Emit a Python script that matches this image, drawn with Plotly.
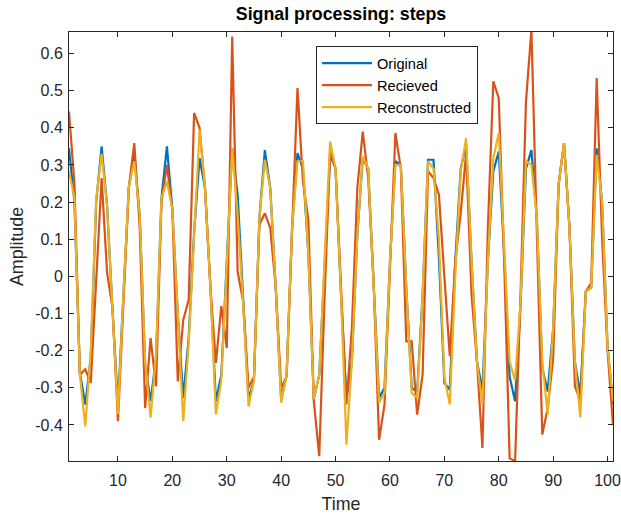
import plotly.graph_objects as go

time = list(range(1, 102))

original = [0.345, 0.20, -0.26, -0.345, -0.22, 0.20, 0.35, 0.19, -0.09, -0.345,
            -0.05, 0.24, 0.327, 0.166, -0.24, -0.336, -0.22, 0.21, 0.35, 0.18,
            -0.10, -0.327, -0.166, 0.12, 0.318, 0.238, -0.03, -0.336, -0.265, 0.03,
            0.345, 0.22, -0.07, -0.33, -0.28, 0.157, 0.34, 0.238, -0.03, -0.332,
            -0.265, 0.13, 0.332, 0.29, 0.06, -0.33, -0.265, 0.05, 0.327, 0.29,
            -0.05, -0.33, -0.23, 0.11, 0.318, 0.29, -0.02, -0.327, -0.30, 0.04,
            0.31, 0.30, -0.03, -0.30, -0.31, -0.05, 0.314, 0.314, 0.05, -0.287,
            -0.305, 0.04, 0.29, 0.354, 0.04, -0.23, -0.305, 0.04, 0.283, 0.336,
            0.06, -0.27, -0.336, -0.08, 0.29, 0.34, 0.157, -0.246, -0.31, -0.14,
            0.247, 0.359, 0.13, -0.23, -0.318, -0.04, -0.03, 0.345, 0.20, -0.19,
            -0.345]

received = [0.444, 0.25, -0.265, -0.25, -0.287, 0.0, 0.265, 0.01, -0.085, -0.39,
            -0.08, 0.24, 0.359, 0.13, -0.354, -0.166, -0.296, 0.20, 0.30, 0.18,
            -0.283, -0.117, -0.063, 0.44, 0.40, 0.238, -0.03, -0.233, -0.08, -0.193,
            0.646, 0.013, -0.067, -0.30, -0.27, 0.14, 0.17, 0.13, -0.03, -0.30,
            -0.27, 0.13, 0.507, 0.256, 0.152, -0.336, -0.484, -0.05, 0.336, 0.29,
            -0.05, -0.345, -0.14, 0.238, 0.39, 0.265, -0.02, -0.44, -0.345, 0.0,
            0.386, 0.29, -0.175, -0.175, -0.372, -0.265, 0.283, 0.265, 0.22, 0.0,
            -0.215, 0.04, 0.17, 0.33, -0.05, -0.23, -0.462, 0.13, 0.525, 0.48,
            0.04, -0.49, -0.497, -0.05, 0.47, 0.664, 0.152, -0.426, -0.354, -0.22,
            0.247, 0.359, 0.13, -0.296, -0.336, -0.04, -0.018, 0.534, 0.10, -0.20,
            -0.40]

reconstructed = [0.283, 0.21, -0.265, -0.404, -0.20, 0.21, 0.33, 0.19, -0.09, -0.37,
                 -0.05, 0.242, 0.31, 0.166, -0.23, -0.38, -0.21, 0.21, 0.256, 0.18,
                 -0.10, -0.39, -0.18, 0.12, 0.395, 0.238, -0.03, -0.372, -0.28, 0.03,
                 0.345, 0.166, -0.07, -0.35, -0.28, 0.157, 0.314, 0.238, -0.03, -0.34,
                 -0.265, 0.13, 0.31, 0.31, 0.06, -0.33, -0.265, 0.05, 0.363, 0.29,
                 -0.05, -0.453, -0.23, 0.11, 0.323, 0.29, -0.02, -0.34, -0.314, 0.04,
                 0.30, 0.30, -0.03, -0.314, -0.327, -0.05, 0.31, 0.29, 0.10, -0.273,
                 -0.345, 0.0, 0.283, 0.372, 0.04, -0.23, -0.345, 0.04, 0.318, 0.386,
                 0.08, -0.23, -0.28, -0.07, 0.31, 0.30, 0.157, -0.23, -0.372, -0.14,
                 0.247, 0.359, 0.13, -0.23, -0.38, -0.04, -0.03, 0.327, 0.20, -0.19,
                 -0.336]

x_ticks = [10, 20, 30, 40, 50, 60, 70, 80, 90, 100]
y_ticks = [-0.4, -0.3, -0.2, -0.1, 0, 0.1, 0.2, 0.3, 0.4, 0.5, 0.6]
y_tick_labels = ["-0.4", "-0.3", "-0.2", "-0.1", "0", "0.1", "0.2", "0.3", "0.4", "0.5", "0.6"]

series = [("Original", original, "#0072BD"),
          ("Recieved", received, "#D95319"),
          ("Reconstructed", reconstructed, "#EDB120")]

fig = go.Figure()
for name, vals, col in series:
    fig.add_trace(go.Scatter(x=time, y=vals, mode="lines", name=name,
                             line=dict(color=col, width=2.2)))

all_vals = original + received + reconstructed
axis_col = "#262626"
font_fam = "Liberation Sans, Arial, sans-serif"

fig.update_layout(
    width=621, height=515,
    margin=dict(l=69, r=8, t=32, b=54),
    paper_bgcolor="white", plot_bgcolor="white",
    font=dict(family=font_fam, size=16, color=axis_col),
    title=dict(text="<b>Signal processing: steps</b>", x=341 / 621,
               xanchor="center", y=1 - 14 / 515, yanchor="middle", yref="container",
               font=dict(size=17.8, color="#000000")),
    showlegend=True,
    legend=dict(x=0.454, y=0.967, xanchor="left", yanchor="top",
                bgcolor="white", bordercolor=axis_col, borderwidth=1,
                font=dict(size=14.6, color="#000000"), tracegroupgap=0,
                itemwidth=50),
)
fig.update_xaxes(range=[1, 101], tickvals=x_ticks, showgrid=False, zeroline=False,
                 automargin=False, ticklabeloverflow="allow",
                 showline=True, linecolor=axis_col, linewidth=1, mirror="ticks",
                 ticks="inside", ticklen=5, tickcolor=axis_col,
                 tickfont=dict(size=16, color=axis_col), ticklabelstandoff=5,
                 title=dict(text="Time", font=dict(size=17.8, color=axis_col), standoff=9))
fig.update_yaxes(range=[min(all_vals), max(all_vals) - 0.006], tickvals=y_ticks,
                 ticktext=y_tick_labels, showgrid=False, automargin=False,
                 zeroline=False, showline=True, linecolor=axis_col, linewidth=1,
                 mirror="ticks", ticks="inside", ticklen=5, tickcolor=axis_col,
                 tickfont=dict(size=16, color=axis_col), ticklabelstandoff=2,
                 title=dict(text="Amplitude", font=dict(size=17.8, color=axis_col), standoff=6))

fig.write_html("out.html", config={"displayModeBar": False},
               post_script="document.body.style.margin='0';document.body.style.overflow='hidden';")
